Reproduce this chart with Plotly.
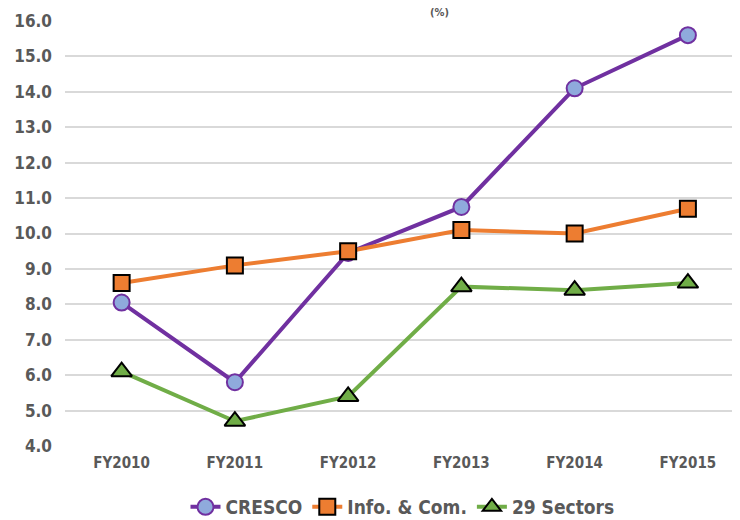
import plotly.graph_objects as go

categories = ["FY2010", "FY2011", "FY2012", "FY2013", "FY2014", "FY2015"]
cresco = [8.05, 5.8, 9.45, 10.75, 14.1, 15.6]
info_com = [8.6, 9.1, 9.5, 10.1, 10.0, 10.7]
sectors29 = [6.1, 4.7, 5.4, 8.5, 8.4, 8.6]
y_ticks = [4, 5, 6, 7, 8, 9, 10, 11, 12, 13, 14, 15, 16]

FONT = "DejaVu Sans Condensed"

fig = go.Figure()
fig.add_trace(go.Scatter(
    x=categories, y=cresco, name="CRESCO", mode="lines+markers",
    line=dict(color="#7030a0", width=4),
    marker=dict(symbol="circle", size=16, color="#8faadc", line=dict(color="#7030a0", width=2)),
))
fig.add_trace(go.Scatter(
    x=categories, y=info_com, name="Info. & Com.", mode="lines+markers",
    line=dict(color="#ed7d31", width=4),
    marker=dict(symbol="square", size=16, color="#ed7d31", line=dict(color="#000000", width=2)),
))
fig.add_trace(go.Scatter(
    x=categories, y=sectors29, name="29 Sectors", mode="lines+markers",
    line=dict(color="#70ad47", width=4),
    marker=dict(symbol="triangle-up", size=18, color="#70ad47", line=dict(color="#000000", width=2)),
))

fig.update_layout(
    width=740, height=520,
    margin=dict(l=57, r=8, t=13, b=82),
    paper_bgcolor="white", plot_bgcolor="white",
    font=dict(family=FONT, color="#595959", size=16),
    showlegend=True,
    legend=dict(orientation="h", x=0.5, xanchor="center", yref="container",
                y=0.0404, yanchor="middle",
                font=dict(size=19, family=FONT, color="#595959", weight="bold"),
                itemwidth=30, tracegroupgap=0),
    xaxis=dict(type="category", range=[-0.5, 5.46], showgrid=False, zeroline=False,
               showline=False, ticks="", tickfont=dict(size=15, weight="bold"),
               ticklabelstandoff=6, automargin=False),
    yaxis=dict(range=[4, 16], tickvals=y_ticks, tickformat=".1f", showgrid=True,
               gridcolor="#d9d9d9", gridwidth=1.5, zeroline=False, showline=False,
               ticks="", tickfont=dict(size=17, weight="bold"), ticklabelstandoff=12,
               automargin=False),
)
fig.add_annotation(text="(%)", xref="paper", yref="paper", x=0.555, y=1, yshift=0,
                   yanchor="bottom", showarrow=False,
                   font=dict(size=11, color="#595959", family=FONT, weight="bold"))

fig.write_html("out.html")
